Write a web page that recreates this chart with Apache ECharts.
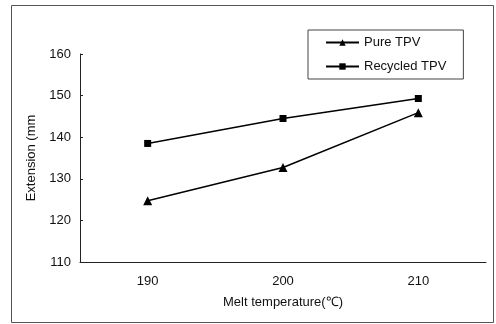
<!DOCTYPE html>
<html>
<head>
<meta charset="utf-8">
<script src="https://cdn.jsdelivr.net/npm/echarts@6/dist/echarts.min.js"></script>
<style>
  html, body { margin: 0; padding: 0; background: #fff; }
  #chart { width: 496px; height: 324px; }
</style>
</head>
<body>
<div id="chart"></div>
<script>
const temperatures = ['190', '200', '210']
const pureTpv = [124.7, 132.7, 145.9]
const recycledTpv = [138.5, 144.5, 149.3]

const font = 'Liberation Sans, Arial, sans-serif'
const chart = echarts.init(document.getElementById('chart'))

chart.setOption({
  backgroundColor: '#fff',
  animation: false,
  graphic: [{
    type: 'rect',
    shape: { x: 11.5, y: 5.5, width: 482, height: 317 },
    style: { fill: 'none', stroke: '#555', lineWidth: 1 },
    silent: true
  }],
  grid: { left: 80, right: 10, top: 54, bottom: 62 },
  legend: {
    orient: 'vertical',
    left: 308,
    top: 30,
    padding: [6, 17, 6, 17],
    itemGap: 11,
    itemWidth: 33,
    itemHeight: 8,
    borderColor: '#444',
    borderWidth: 1,
    textStyle: { color: '#111', fontSize: 13, fontFamily: font },
    data: ['Pure TPV', 'Recycled TPV']
  },
  xAxis: {
    type: 'category',
    data: temperatures,
    boundaryGap: true,
    name: 'Melt temperature(℃)',
    nameLocation: 'middle',
    nameGap: 34,
    nameTextStyle: { color: '#111', fontSize: 13, fontFamily: font },
    axisLine: { lineStyle: { color: '#222', width: 1 } },
    axisTick: { inside: true, length: 3, lineStyle: { color: '#222' } },
    axisLabel: { color: '#111', fontSize: 13, fontFamily: font, margin: 13 },
    splitLine: { show: false }
  },
  yAxis: {
    type: 'value',
    min: 110,
    max: 160,
    interval: 10,
    name: 'Extension (mm',
    nameLocation: 'middle',
    nameGap: 40,
    nameTextStyle: { color: '#111', fontSize: 13, fontFamily: font },
    axisLine: { show: true, lineStyle: { color: '#222', width: 1 } },
    axisTick: { show: true, inside: true, length: 3, lineStyle: { color: '#222' } },
    axisLabel: { color: '#111', fontSize: 13, fontFamily: font, margin: 9 },
    splitLine: { show: false }
  },
  series: [
    {
      name: 'Pure TPV',
      type: 'line',
      data: pureTpv,
      symbol: 'triangle',
      symbolSize: 9,
      itemStyle: { color: '#000' },
      lineStyle: { color: '#000', width: 1.5 }
    },
    {
      name: 'Recycled TPV',
      type: 'line',
      data: recycledTpv,
      symbol: 'rect',
      symbolSize: 7,
      itemStyle: { color: '#000' },
      lineStyle: { color: '#000', width: 1.5 }
    }
  ]
})
</script>
</body>
</html>
